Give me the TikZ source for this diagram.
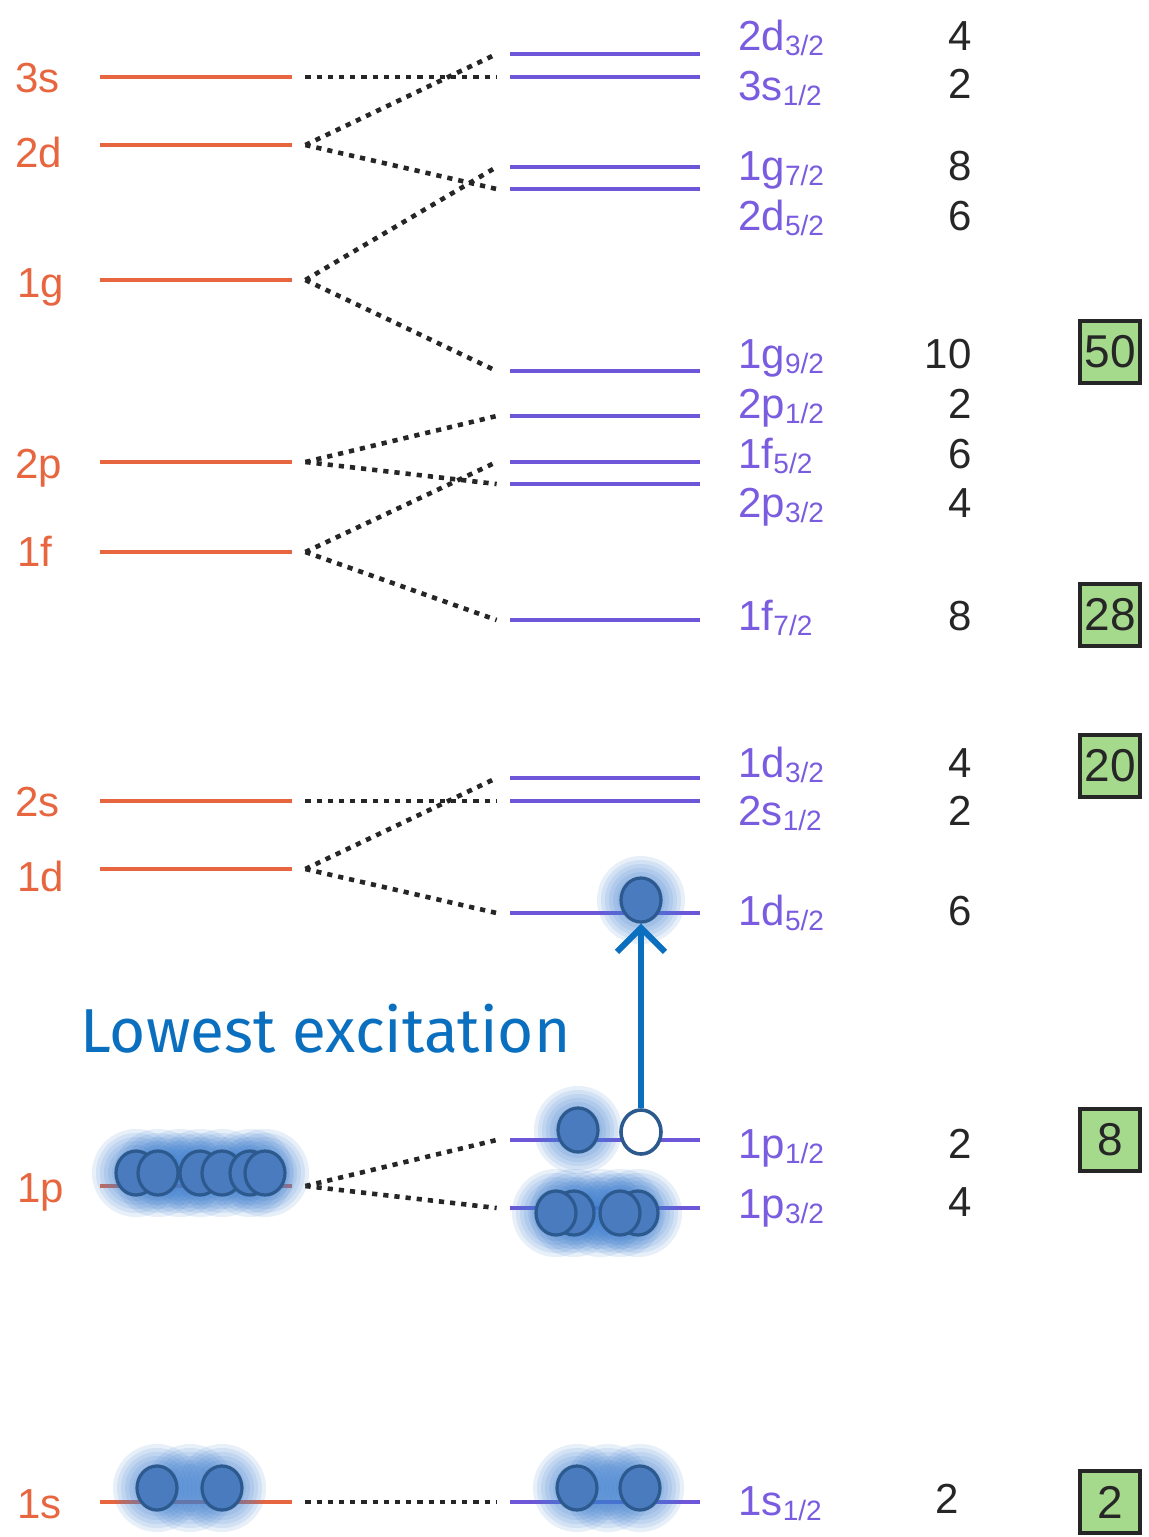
\documentclass[tikz,border=0pt]{standalone}
\usepackage{fontspec}
\setmainfont{Liberation Sans}
\newfontfamily\handfont{Fira Sans}
\usetikzlibrary{arrows.meta,shapes.geometric}
\definecolor{orangelvl}{HTML}{E8663F}
\definecolor{purplelvl}{HTML}{6E56D8}
\definecolor{purpletxt}{HTML}{7A5CE0}
\definecolor{elecfill}{HTML}{4A7BBE}
\definecolor{elecdraw}{HTML}{2C5A8E}
\definecolor{glowblue}{HTML}{3F7FD0}
\definecolor{arrowblue}{HTML}{0B6FC0}
\definecolor{boxgreen}{HTML}{A5D98C}
\newcommand\lvsub[1]{{\fontsize{14}{14}\selectfont\raisebox{-2.5pt}{#1}}}
\newcommand\eglow[2]{\foreach \rr in {12,14,16,18,20,22}{\fill[glowblue,opacity=0.12] (#1,#2) circle[radius=\rr pt];}}
\tikzset{
  lvlL/.style={fill=orangelvl, minimum width=96pt, minimum height=2pt, inner sep=0pt, draw=none},
  lvlR/.style={fill=purplelvl, minimum width=95pt, minimum height=2pt, inner sep=0pt, draw=none},
  conn/.style={draw=black!85, line width=2.3pt, dash pattern=on 2.6pt off 3pt},
  lblL/.style={text=orangelvl, anchor=base west, inner sep=0pt, font=\fontsize{21}{21}\selectfont},
  lblR/.style={text=purpletxt, anchor=base west, inner sep=0pt, font=\fontsize{21}{21}\selectfont},
  numlbl/.style={text=black!85, anchor=base east, inner sep=0pt, font=\fontsize{21}{21}\selectfont},
  magic/.style={draw=black!85, line width=1.6pt, fill=boxgreen, minimum width=30pt, minimum height=31pt, inner sep=0pt, font=\fontsize{23}{23}\selectfont, text=black!85},
  elec/.style={shape=ellipse, draw=elecdraw, line width=1.6pt, fill=elecfill, minimum width=20pt, minimum height=22pt, inner sep=0pt},
  holeel/.style={shape=ellipse, draw=elecdraw, line width=1.8pt, fill=white, minimum width=20pt, minimum height=22pt, inner sep=0pt}
}
\begin{document}
\begin{tikzpicture}[x=0.5pt,y=-0.5pt]
\useasboundingbox (0,0) rectangle (1148,1537);
\fill[white] (0,0) rectangle (1148,1537);
% left levels
\node[lvlL] (L3s) at (196,77) {};
\node[lvlL] (L2d) at (196,145) {};
\node[lvlL] (L1g) at (196,280) {};
\node[lvlL] (L2p) at (196,462) {};
\node[lvlL] (L1f) at (196,552) {};
\node[lvlL] (L2s) at (196,801) {};
\node[lvlL] (L1d) at (196,869) {};
\node[lvlL] (L1p) at (196,1186) {};
\node[lvlL] (L1s) at (196,1502) {};
% right levels
\node[lvlR] (R2d3) at (605,54) {};
\node[lvlR] (R3s1) at (605,77) {};
\node[lvlR] (R1g7) at (605,167) {};
\node[lvlR] (R2d5) at (605,189) {};
\node[lvlR] (R1g9) at (605,371) {};
\node[lvlR] (R2p1) at (605,416) {};
\node[lvlR] (R1f5) at (605,462) {};
\node[lvlR] (R2p3) at (605,484) {};
\node[lvlR] (R1f7) at (605,620) {};
\node[lvlR] (R1d3) at (605,778) {};
\node[lvlR] (R2s1) at (605,801) {};
\node[lvlR] (R1d5) at (605,913) {};
\node[lvlR] (R1p1) at (605,1140) {};
\node[lvlR] (R1p3) at (605,1208) {};
\node[lvlR] (R1s1) at (605,1502) {};
% connectors
\foreach \a/\b in {L3s/R3s1, L2d/R2d3, L2d/R2d5, L1g/R1g7, L1g/R1g9, L2p/R2p1, L2p/R2p3, L1f/R1f5, L1f/R1f7, L2s/R2s1, L1d/R1d3, L1d/R1d5, L1p/R1p1, L1p/R1p3, L1s/R1s1}
  \draw[conn] ([xshift=6.5pt]\a.east) -- ([xshift=-6.5pt]\b.west);
% left labels
\node[lblL] (t3s) at (15,92) {3s};
\node[lblL] (t2d) at (15,167) {2d};
\node[lblL] (t1g) at (17,297) {1g};
\node[lblL] (t2p) at (15,478) {2p};
\node[lblL] (t1f) at (17,566) {1f};
\node[lblL] (t2s) at (15,816) {2s};
\node[lblL] (t1d) at (17,891) {1d};
\node[lblL] (t1p) at (17,1202) {1p};
\node[lblL] (t1s) at (17,1518) {1s};
% right labels
\node[lblR] (u2d3) at (738,50) {2d\lvsub{3/2}};
\node[lblR] (u3s1) at (738,100) {3s\lvsub{1/2}};
\node[lblR] (u1g7) at (738,180) {1g\lvsub{7/2}};
\node[lblR] (u2d5) at (738,230) {2d\lvsub{5/2}};
\node[lblR] (u1g9) at (738,368) {1g\lvsub{9/2}};
\node[lblR] (u2p1) at (738,418) {2p\lvsub{1/2}};
\node[lblR] (u1f5) at (738,468) {1f\lvsub{5/2}};
\node[lblR] (u2p3) at (738,517) {2p\lvsub{3/2}};
\node[lblR] (u1f7) at (738,630) {1f\lvsub{7/2}};
\node[lblR] (u1d3) at (738,777) {1d\lvsub{3/2}};
\node[lblR] (u2s1) at (738,825) {2s\lvsub{1/2}};
\node[lblR] (u1d5) at (738,925) {1d\lvsub{5/2}};
\node[lblR] (u1p1) at (738,1158) {1p\lvsub{1/2}};
\node[lblR] (u1p3) at (738,1218) {1p\lvsub{3/2}};
\node[lblR] (u1s1) at (738,1515) {1s\lvsub{1/2}};
% occupancies
\node[numlbl] (n1) at (972,50) {4};
\node[numlbl] (n2) at (972,98) {2};
\node[numlbl] (n3) at (972,180) {8};
\node[numlbl] (n4) at (972,230) {6};
\node[numlbl] (n5) at (972,368) {10};
\node[numlbl] (n6) at (972,418) {2};
\node[numlbl] (n7) at (972,468) {6};
\node[numlbl] (n8) at (972,517) {4};
\node[numlbl] (n9) at (972,630) {8};
\node[numlbl] (n10) at (972,777) {4};
\node[numlbl] (n11) at (972,825) {2};
\node[numlbl] (n12) at (972,925) {6};
\node[numlbl] (n13) at (972,1158) {2};
\node[numlbl] (n14) at (972,1216) {4};
\node[numlbl] (n15) at (959,1513) {2};
% magic numbers
\node[magic] (m50) at (1110,352) {50};
\node[magic] (m28) at (1110,615) {28};
\node[magic] (m20) at (1110,766) {20};
\node[magic] (m8) at (1110,1140) {8};
\node[magic] (m2) at (1110,1502) {2};
% glows
\foreach \x in {136,158,180,200,222,250,265} {\eglow{\x}{1173}}
\foreach \x in {556,574,600,620,638} {\eglow{\x}{1213}}
\eglow{578}{1130}
\eglow{641}{900}
\foreach \x in {157,190,222} {\eglow{\x}{1488}}
\foreach \x in {577,608,640} {\eglow{\x}{1488}}
% electrons
\node[elec] (p1) at (136,1173) {};
\node[elec] (p2) at (158,1173) {};
\node[elec] (p3) at (200,1173) {};
\node[elec] (p4) at (222,1173) {};
\node[elec] (p5) at (250,1173) {};
\node[elec] (p6) at (265,1173) {};
\node[elec] (q2) at (574,1213) {};
\node[elec] (q1) at (556,1213) {};
\node[elec] (q4) at (638,1213) {};
\node[elec] (q3) at (620,1213) {};
\node[elec] (r1) at (578,1130) {};
\node[holeel] (hole) at (641,1132) {};
\node[elec] (exc) at (641,900) {};
\node[elec] (s1) at (157,1488) {};
\node[elec] (s2) at (222,1488) {};
\node[elec] (s3) at (577,1488) {};
\node[elec] (s4) at (640,1488) {};
% excitation arrow
\draw[arrowblue, line width=3pt, -{Straight Barb[length=12pt,width=24pt,line width=3pt]}] (hole.north) -- (exc.south);
\node[anchor=base west, inner sep=0pt, text=arrowblue] (lowtxt) at (80,1052) {\resizebox{245pt}{!}{\handfont Lowest excitation}};
\end{tikzpicture}
\end{document}
